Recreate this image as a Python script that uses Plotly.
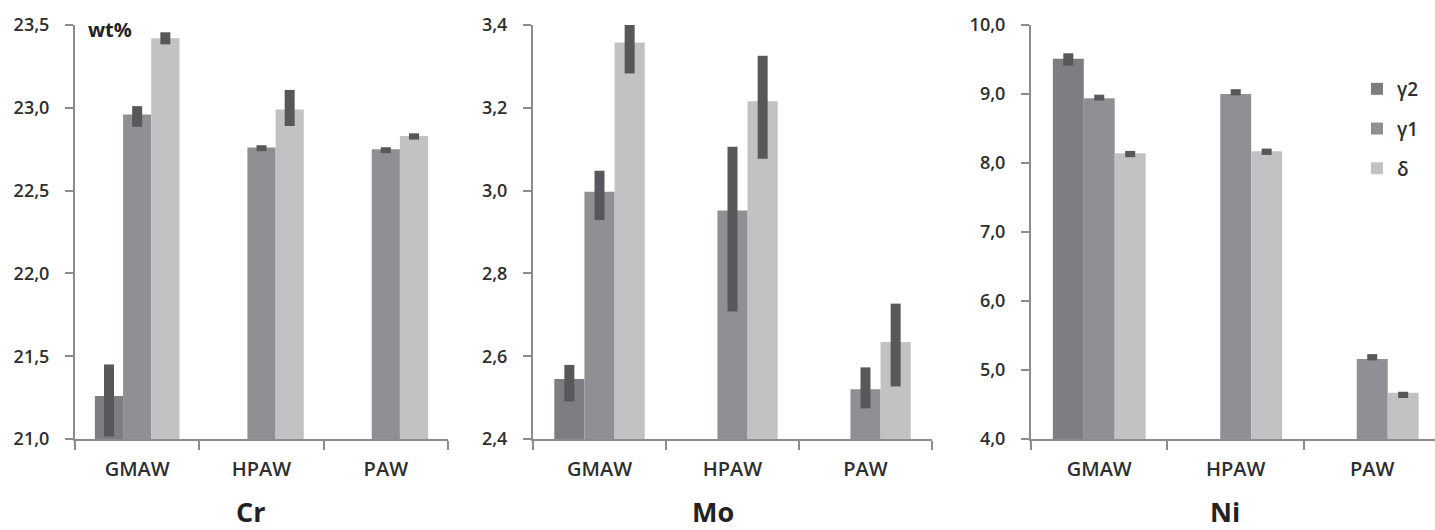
import plotly.graph_objects as go

W, H = 1435, 530

categories = ["GMAW", "HPAW", "PAW"]
series_names = ["γ2", "γ1", "δ"]
series_colors = ["#7d7e82", "#8f9094", "#c1c2c4"]
err_color = "#58585a"

# Cr (wt%)
cr_g2 = [21.26, None, None]
cr_g2_plus = [0.19, 0, 0]
cr_g2_minus = [0.245, 0, 0]
cr_g1 = [22.96, 22.76, 22.75]
cr_g1_plus = [0.05, 0.014, 0.012]
cr_g1_minus = [0.075, 0.022, 0.024]
cr_d = [23.42, 22.99, 22.83]
cr_d_plus = [0.036, 0.118, 0.016]
cr_d_minus = [0.037, 0.10, 0.022]

# Mo (wt%)
mo_g2 = [2.545, None, None]
mo_g2_plus = [0.034, 0, 0]
mo_g2_minus = [0.054, 0, 0]
mo_g1 = [2.997, 2.952, 2.52]
mo_g1_plus = [0.051, 0.154, 0.053]
mo_g1_minus = [0.068, 0.244, 0.046]
mo_d = [3.358, 3.216, 2.634]
mo_d_plus = [0.065, 0.110, 0.093]
mo_d_minus = [0.075, 0.139, 0.107]

# Ni (wt%)
ni_g2 = [9.51, None, None]
ni_g2_plus = [0.08, 0, 0]
ni_g2_minus = [0.10, 0, 0]
ni_g1 = [8.94, 9.0, 5.16]
ni_g1_plus = [0.05, 0.07, 0.07]
ni_g1_minus = [0.035, 0.02, 0.021]
ni_d = [8.14, 8.17, 4.67]
ni_d_plus = [0.035, 0.039, 0.015]
ni_d_minus = [0.056, 0.053, 0.076]

panels = [
    dict(name="Cr", vals=[cr_g2, cr_g1, cr_d],
         plus=[cr_g2_plus, cr_g1_plus, cr_d_plus],
         minus=[cr_g2_minus, cr_g1_minus, cr_d_minus],
         yrange=[21.0, 23.5], dtick=0.5, xpx=(75, 448), xr=[-0.5, 2.5], title_x=250),
    dict(name="Mo", vals=[mo_g2, mo_g1, mo_d],
         plus=[mo_g2_plus, mo_g1_plus, mo_d_plus],
         minus=[mo_g2_minus, mo_g1_minus, mo_d_minus],
         yrange=[2.4, 3.4], dtick=0.2, xpx=(533, 932), xr=[-0.5, 2.5], title_x=713),
    dict(name="Ni", vals=[ni_g2, ni_g1, ni_d],
         plus=[ni_g2_plus, ni_g1_plus, ni_d_plus],
         minus=[ni_g2_minus, ni_g1_minus, ni_d_minus],
         yrange=[4.0, 10.0], dtick=1.0, xpx=(1031, 1435), xr=[-0.5, 2.46], title_x=1225),
]

FONT = "Open Sans"
TXT = "#2e2e2e"
AX = "#8c8c8c"

fig = go.Figure()
ytop = 1 - 25 / H
ybot = 1 - 439 / H

layout = dict(
    width=W, height=H, autosize=False,
    margin=dict(l=0, r=0, t=0, b=0, pad=0, autoexpand=False),
    paper_bgcolor="white", plot_bgcolor="white",
    barmode="group", bargap=0.32, bargroupgap=0,
    separators=",.",
    font=dict(family=FONT, color=TXT, size=18),
    showlegend=True,
    legend=dict(x=1357 / W, y=1 - 70 / H, xanchor="left", yanchor="top",
                font=dict(size=19, color=TXT, family=FONT, weight=600),
                tracegroupgap=12, bgcolor="rgba(0,0,0,0)", borderwidth=0),
)

annotations = []
for i, p in enumerate(panels):
    k = "" if i == 0 else str(i + 1)
    xa, ya = "x" + k, "y" + k
    for s in range(3):
        fig.add_trace(go.Bar(
            x=categories, y=p["vals"][s], name=series_names[s],
            marker=dict(color=series_colors[s], line=dict(width=0)),
            error_y=dict(type="data", symmetric=False, array=p["plus"][s],
                         arrayminus=p["minus"][s], color=err_color,
                         thickness=10, width=0),
            xaxis=xa, yaxis=ya, showlegend=(i == 2),
            legendgroup=series_names[s], cliponaxis=False,
        ))
    layout["xaxis" + k] = dict(
        domain=[p["xpx"][0] / W, p["xpx"][1] / W], anchor=ya,
        type="category", range=p["xr"], tickson="boundaries",
        ticks="outside", ticklen=9, tickwidth=2, tickcolor=AX,
        showline=True, linecolor=AX, linewidth=2, showgrid=False,
        tickfont=dict(size=20, color=TXT, family=FONT, weight=600),
        ticklabelstandoff=11, fixedrange=True, automargin=False,
    )
    layout["yaxis" + k] = dict(
        domain=[ybot, ytop], anchor=xa, range=p["yrange"], dtick=p["dtick"],
        tick0=p["yrange"][0], tickformat=".1f",
        ticks="outside", ticklen=8, tickwidth=2, tickcolor=AX,
        showline=True, linecolor=AX, linewidth=2, showgrid=False, zeroline=False,
        tickfont=dict(size=18, color=TXT, family=FONT, weight=600),
        ticklabelstandoff=12, fixedrange=True, automargin=False,
    )
    annotations.append(dict(
        text=p["name"], x=p["title_x"] / W, y=1 - 511 / H, xref="paper", yref="paper",
        xanchor="center", yanchor="middle", showarrow=False,
        font=dict(size=27, color="#222222", family=FONT, weight="bold"),
    ))

annotations.append(dict(
    text="wt%", x=86 / W, y=1 - 30 / H, xref="paper", yref="paper",
    xanchor="left", yanchor="middle", showarrow=False,
    font=dict(size=20, color="#222222", family=FONT, weight="bold"),
))
layout["annotations"] = annotations

fig.update_layout(**layout)
fig.write_html(
    "out.html",
    config={"displayModeBar": False},
    post_script="document.body.style.margin='0';document.body.style.overflow='hidden';",
)
